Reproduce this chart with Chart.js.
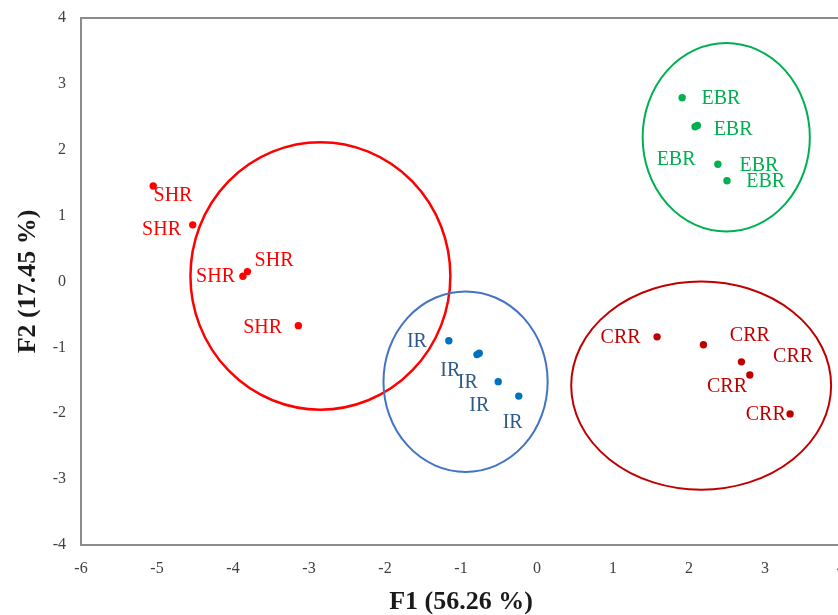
<!DOCTYPE html>
<html>
<head>
<meta charset="utf-8">
<script src="https://cdn.jsdelivr.net/npm/chart.js@4"></script>
<style>
  html, body { margin: 0; padding: 0; background: #fff; overflow: hidden; }
  #wrap { width: 845px; height: 615px; }
</style>
</head>
<body>
<div id="wrap"><canvas id="c" width="845" height="615"></canvas></div>
<script>
// 점 좌표 (F1, F2)
const groups = ["SHR", "IR", "CRR", "EBR"];
const shrX = [-5.05, -4.53, -3.87, -3.81, -3.14];
const shrY = [1.45, 0.86, 0.08, 0.15, -0.67];
const irX = [-1.16, -0.79, -0.76, -0.51, -0.24];
const irY = [-0.90, -1.11, -1.09, -1.52, -1.74];
const crrX = [1.58, 2.19, 2.69, 2.80, 3.33];
const crrY = [-0.84, -0.96, -1.22, -1.42, -2.01];
const ebrX = [1.91, 2.08, 2.11, 2.38, 2.50];
const ebrY = [2.79, 2.35, 2.37, 1.78, 1.53];

// 라벨 위치 (데이터 좌표)
const shrLabelX = [-4.79, -4.94, -4.23, -3.46, -3.61];
const shrLabelY = [1.30, 0.78, 0.07, 0.31, -0.70];
const irLabelX = [-1.58, -1.14, -0.91, -0.76, -0.32];
const irLabelY = [-0.92, -1.36, -1.54, -1.89, -2.15];
const crrLabelX = [1.10, 2.80, 3.37, 2.50, 3.01];
const crrLabelY = [-0.86, -0.83, -1.14, -1.60, -2.02];
const ebrLabelX = [2.42, 2.58, 1.83, 2.92, 3.01];
const ebrLabelY = [2.77, 2.30, 1.85, 1.75, 1.51];

// 그룹 타원 (중심, 반지름)
const ellipseCx = [-2.85, -0.94, 2.16, 2.49];
const ellipseCy = [0.085, -1.52, -1.58, 2.19];
const ellipseRx = [1.71, 1.08, 1.71, 1.10];
const ellipseRy = [2.03, 1.37, 1.58, 1.43];

const pointColors = ["#ff0000", "#0070c0", "#c00000", "#00b050"];
const labelColors = ["#ff0000", "#2e5a88", "#c00000", "#00b050"];
const ellipseColors = ["#ff0000", "#4472c4", "#c00000", "#00b050"];
const ellipseWidths = [2.5, 2, 2, 2];

const xs = [shrX, irX, crrX, ebrX];
const ys = [shrY, irY, crrY, ebrY];
const lxs = [shrLabelX, irLabelX, crrLabelX, ebrLabelX];
const lys = [shrLabelY, irLabelY, crrLabelY, ebrLabelY];

const datasets = groups.map((g, i) => ({
  label: g,
  data: xs[i].map((x, j) => ({ x: x, y: ys[i][j] })),
  backgroundColor: pointColors[i],
  borderColor: pointColors[i],
  pointRadius: 3.7,
  pointBorderWidth: 0
}));

const serif = "'Liberation Serif', 'Times New Roman', serif";

const decorPlugin = {
  id: "decor",
  afterDatasetsDraw(chart) {
    const ctx = chart.ctx;
    const xs_ = chart.scales.x;
    const ys_ = chart.scales.y;
    const a = chart.chartArea;

    // 테두리
    ctx.save();
    ctx.strokeStyle = "#8c8c8c";
    ctx.lineWidth = 2;
    ctx.strokeRect(a.left, a.top, a.right - a.left, a.bottom - a.top);
    ctx.restore();

    // 타원
    groups.forEach((g, i) => {
      const cx = xs_.getPixelForValue(ellipseCx[i]);
      const cy = ys_.getPixelForValue(ellipseCy[i]);
      const rx = xs_.getPixelForValue(ellipseCx[i] + ellipseRx[i]) - cx;
      const ry = cy - ys_.getPixelForValue(ellipseCy[i] + ellipseRy[i]);
      ctx.save();
      ctx.beginPath();
      ctx.ellipse(cx, cy, rx, ry, 0, 0, Math.PI * 2);
      ctx.strokeStyle = ellipseColors[i];
      ctx.lineWidth = ellipseWidths[i];
      ctx.stroke();
      ctx.restore();
    });

    // 라벨
    ctx.save();
    ctx.font = "20px " + serif;
    ctx.textAlign = "center";
    ctx.textBaseline = "middle";
    groups.forEach((g, i) => {
      ctx.fillStyle = labelColors[i];
      lxs[i].forEach((lx, j) => {
        ctx.fillText(g, xs_.getPixelForValue(lx), ys_.getPixelForValue(lys[i][j]));
      });
    });
    ctx.restore();
  }
};

new Chart(document.getElementById("c"), {
  type: "scatter",
  data: { datasets: datasets },
  plugins: [decorPlugin],
  options: {
    responsive: false,
    animation: false,
    layout: { padding: { top: 18, right: 4, left: 0, bottom: 0 } },
    plugins: {
      legend: { display: false },
      tooltip: { enabled: false }
    },
    scales: {
      x: {
        type: "linear",
        min: -6,
        max: 4,
        grid: { display: false, drawTicks: false },
        border: { display: false },
        ticks: {
          stepSize: 1,
          padding: 14,
          color: "#404040",
          font: { family: serif, size: 16 }
        },
        title: {
          display: true,
          text: "F1 (56.26 %)",
          color: "#1a1a1a",
          font: { family: serif, size: 26, weight: "bold", lineHeight: 1 },
          padding: { top: 0, bottom: 0 }
        },
        afterFit(scale) {
          scale.height = 70;
          scale.paddingLeft = 0;
          scale.paddingRight = 0;
        }
      },
      y: {
        type: "linear",
        min: -4,
        max: 4,
        grid: { display: false, drawTicks: false },
        border: { display: false },
        ticks: {
          stepSize: 1,
          padding: 15,
          color: "#404040",
          font: { family: serif, size: 16 }
        },
        title: {
          display: true,
          text: "F2 (17.45 %)",
          color: "#1a1a1a",
          font: { family: serif, size: 26, weight: "bold", lineHeight: 1 },
          padding: { top: 15, bottom: 0 }
        },
        afterFit(scale) {
          scale.width = 81;
          scale.paddingTop = 0;
          scale.paddingBottom = 0;
        }
      }
    }
  }
});
</script>
</body>
</html>
